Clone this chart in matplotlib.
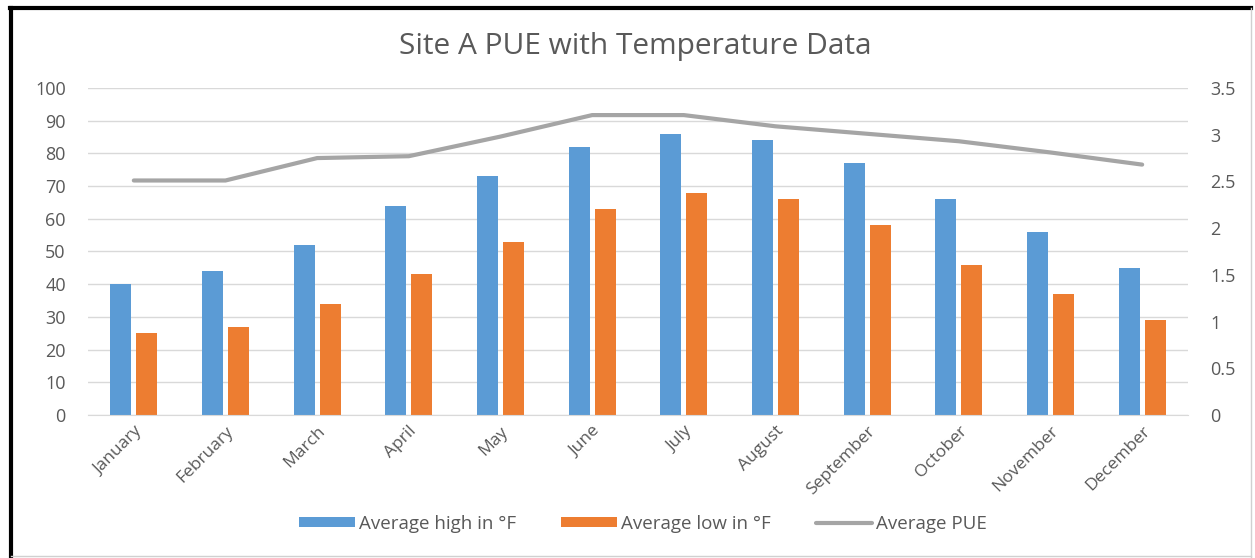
import matplotlib.pyplot as plt
import numpy as np
from matplotlib.lines import Line2D
from matplotlib.ticker import FuncFormatter

plt.rcParams['font.family'] = ['Open Sans', 'DejaVu Sans']

months = ['January', 'February', 'March', 'April', 'May', 'June', 'July',
          'August', 'September', 'October', 'November', 'December']
avg_high = [40, 44, 52, 64, 73, 82, 86, 84, 77, 66, 56, 45]
avg_low = [25, 27, 34, 43, 53, 63, 68, 66, 58, 46, 37, 29]
avg_pue = [2.51, 2.51, 2.75, 2.77, 2.98, 3.21, 3.21, 3.09, 3.01, 2.93, 2.81, 2.68]

blue = '#5B9BD5'
orange = '#ED7D31'
gray = '#A5A5A5'
txt = '#595959'

fig = plt.figure(figsize=(12.55, 5.58), dpi=100)
ax = fig.add_axes([0.0701, 0.2563, 0.8765, 0.586])
ax2 = ax.twinx()

x = np.arange(len(months))
w = 0.23
ax.bar(x - 0.142, avg_high, w, color=blue, label='Average high in °F', zorder=2)
ax.bar(x + 0.142, avg_low, w, color=orange, label='Average low in °F', zorder=2)
ax2.plot(x, avg_pue, color=gray, lw=3, label='Average PUE', solid_capstyle='round')

ax.set_xlim(-0.5, 11.5)
ax.set_ylim(0, 100)
ax.set_yticks(range(0, 101, 10))
ax2.set_ylim(0, 3.5)
ax2.set_yticks(np.arange(0, 3.51, 0.5))
ax2.yaxis.set_major_formatter(FuncFormatter(lambda v, p: '%g' % v))

ax.grid(axis='y', color='#D9D9D9', lw=1, zorder=0)
ax.set_axisbelow(True)
for a in (ax, ax2):
    for s in a.spines.values():
        s.set_visible(False)
ax.spines['bottom'].set_visible(True)
ax.spines['bottom'].set_color('#D9D9D9')

ax.tick_params(axis='y', length=0, pad=16, labelsize=13, labelcolor=txt)
ax2.tick_params(axis='y', length=0, pad=16, labelsize=13, labelcolor=txt)
ax.tick_params(axis='x', length=0, pad=6, labelsize=12.5, labelcolor=txt)
ax.set_xticks(x)
ax.set_xticklabels(months, rotation=45, ha='right', rotation_mode='anchor')

fig.text(0.506, 0.917, 'Site A PUE with Temperature Data', ha='center', va='center',
         fontsize=21.5, color=txt)

h1, l1 = ax.get_legend_handles_labels()
h2, l2 = ax2.get_legend_handles_labels()
fig.legend(h1 + h2, l1 + l2, loc='center', bbox_to_anchor=(0.512, 0.061), ncol=3,
           frameon=False, fontsize=13.5, labelcolor=txt, handlelength=3.0,
           handleheight=0.45, handletextpad=0.2, columnspacing=2.4)

# chart frame
fig.add_artist(Line2D([0.008, 0.997], [0.986, 0.986], color='black', lw=3))
fig.add_artist(Line2D([0.009, 0.009], [0.0, 0.986], color='black', lw=3))
fig.add_artist(Line2D([0.997, 0.997], [0.0, 0.986], color='#D0D0D0', lw=1))
fig.add_artist(Line2D([0.009, 0.997], [0.004, 0.004], color='#D0D0D0', lw=1))

fig.savefig('out.png', dpi=100)
